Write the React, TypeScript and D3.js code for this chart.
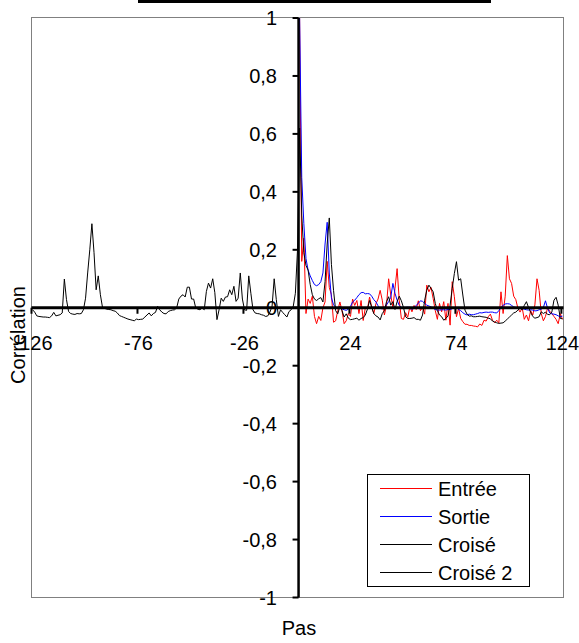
import React from "react";
import * as d3 from "d3";

// Lags (categories)
const lagMin = -126;
const lagMax = 124;
const lags: number[] = d3.range(lagMin, lagMax + 1);
const posLags: number[] = d3.range(0, lagMax + 1);
const negLags: number[] = d3.range(lagMin, 1);

const xTickLabels: number[] = [-126, -76, -26, 24, 74, 124];
const yTickValues: number[] = [1, 0.8, 0.6, 0.4, 0.2, 0, -0.2, -0.4, -0.6, -0.8, -1];

// Entrée (autocorrelation of input), lags 0..124
const entree: number[] = [
  1.0, 0.16, 0.24, -0.02, 0.03, 0.015, 0.04, -0.03, -0.055, -0.03,
  -0.044, 0.0, 0.02, 0.16, 0.07, 0.045, -0.05, -0.045, -0.01, 0.02,
  -0.01, -0.055, -0.045, -0.02, -0.03, 0.03, 0.008, 0.025, -0.02, 0.025,
  -0.044, 0.0, -0.004, 0.037, 0.003, -0.02, 0.014, 0.03, 0.06, 0.026,
  -0.025, 0.009, 0.1, 0.044, 0.001, 0.067, 0.135, 0.026, -0.037, -0.04,
  -0.017, -0.033, 0.003, -0.014, 0.008, -0.006, 0.024, -0.01, 0.001, -0.022,
  0.078, 0.055, 0.07, 0.032, -0.01, -0.04, 0.015, -0.014, 0.021, -0.043,
  0.015, -0.06, 0.09, 0.038, -0.031, -0.002, -0.037, -0.048, -0.057, -0.057,
  -0.061, -0.061, -0.063, -0.064, -0.066, -0.056, -0.061, -0.043, -0.046, -0.031,
  -0.022, -0.043, -0.052, -0.043, -0.052, 0.055, -0.02, 0.04, 0.18, 0.1,
  0.084, 0.04, 0.028, -0.002, -0.015, 0.0, -0.04, -0.025, -0.045, -0.01,
  -0.025, 0.01, 0.1, 0.06, -0.02, -0.045, -0.03, 0.0, -0.012, -0.02,
  -0.03, -0.04, -0.055, -0.02, -0.04,
];

// Sortie (autocorrelation of output), lags 0..124
const sortie: number[] = [
  1.0, 0.45, 0.29, 0.17, 0.13, 0.11, 0.094, 0.08, 0.076, 0.08,
  0.09, 0.12, 0.22, 0.295, 0.12, 0.035, 0.01, 0.002, 0.0, -0.002,
  -0.004, -0.007, -0.009, -0.005, 0.005, 0.02, 0.026, 0.035, 0.045, 0.052,
  0.053, 0.048, 0.049, 0.048, 0.04, 0.028, 0.02, 0.007, -0.002, -0.004,
  0.0, 0.01, 0.021, 0.036, 0.084, 0.05, 0.026, 0.008, 0.001, 0.001,
  0.001, 0.002, 0.001, -0.006, 0.001, 0.008, 0.015, 0.024, 0.022, 0.015,
  0.009, 0.006, 0.003, -0.002, -0.006, -0.008, -0.008, -0.007, -0.007, -0.008,
  -0.006, -0.006, -0.003, -0.001, 0.001, -0.006, -0.01, -0.017, -0.022, -0.025,
  -0.022, -0.024, -0.024, -0.022, -0.02, -0.017, -0.018, -0.016, -0.015, -0.016,
  -0.015, -0.015, -0.017, -0.018, -0.01, 0.001, 0.008, 0.013, 0.014, 0.013,
  0.008, 0.003, 0.0, -0.002, -0.002, -0.003, -0.005, -0.007, -0.008, -0.007,
  -0.008, -0.011, -0.01, -0.007, -0.005, 0.001, 0.024, -0.002, -0.018, -0.021,
  -0.022, -0.024, -0.028, -0.031, -0.029,
];

// Croisé (cross-correlation), lags 0..124
const croise: number[] = [
  0.62, 0.32, 0.19, 0.146, 0.13, 0.08, 0.045, 0.03, 0.025, 0.031,
  0.035, 0.02, 0.09, 0.22, 0.31, 0.15, 0.06, -0.01, -0.021, 0.005,
  -0.01, -0.032, -0.021, -0.036, -0.041, -0.04, -0.038, -0.036, -0.043, -0.037,
  -0.034, -0.025, -0.005, 0.025, 0.002, -0.02, -0.028, -0.032, -0.042, -0.02,
  -0.01, 0.021, 0.038, 0.009, 0.021, -0.006, 0.021, 0.04, 0.024, 0.001,
  -0.031, -0.037, -0.037, -0.036, -0.034, -0.04, -0.04, -0.043, -0.025, 0.026,
  0.061, 0.078, 0.067, 0.055, 0.015, -0.01, -0.025, -0.031, -0.043, -0.037,
  -0.028, 0.009, 0.067, 0.118, 0.159, 0.095, 0.1, 0.044, -0.008, -0.022,
  -0.029, -0.028, -0.031, -0.031, -0.03, -0.029, -0.031, -0.032, -0.033, -0.036,
  -0.038, -0.046, -0.049, -0.052, -0.054, -0.053, -0.052, -0.046, -0.039, -0.032,
  -0.025, -0.018, -0.015, -0.008, -0.002, -0.007, 0.008, 0.021, 0.001, -0.016,
  -0.03, -0.036, -0.034, -0.031, -0.014, -0.02, -0.015, -0.023, -0.024, -0.015,
  0.026, 0.036, 0.009, -0.037, -0.038,
];

// Croisé 2 (cross-correlation, negative lags), lags -126..0
const croise2: number[] = [
  -0.007, -0.015, -0.028, -0.03, -0.031, -0.032, -0.032, -0.033, -0.034, -0.028,
  -0.016, -0.028, -0.026, -0.024, -0.018, 0.099, 0.028, -0.013, -0.02, -0.022,
  -0.023, -0.02, -0.021, -0.02, -0.007, 0.033, 0.12, 0.2, 0.29, 0.19,
  0.062, 0.11, 0.045, 0.001, -0.002, -0.005, -0.006, -0.007, -0.01, -0.012,
  -0.018, -0.027, -0.03, -0.033, -0.036, -0.039, -0.041, -0.043, -0.045, -0.039,
  -0.041, -0.04, -0.039, -0.032, -0.025, -0.018, -0.028, -0.02, -0.016, 0.005,
  -0.007, -0.015, -0.02, -0.021, -0.013, -0.01, -0.008, -0.007, 0.0, 0.03,
  0.04, 0.045, 0.037, 0.071, 0.071, 0.03, 0.03, -0.001, -0.005, -0.007,
  0.0, -0.007, 0.056, 0.085, 0.068, 0.1, 0.052, -0.041, -0.007, 0.033,
  0.022, 0.037, 0.038, 0.062, 0.045, 0.074, 0.022, 0.033, 0.12, 0.03,
  -0.007, -0.009, 0.11, 0.05, -0.007, -0.018, -0.02, -0.021, -0.024, -0.026,
  -0.03, -0.028, -0.015, 0.005, 0.1, 0.028, -0.03, -0.007, -0.016, -0.024,
  -0.032, -0.013, -0.007, 0.005, 0.05, 0.2, 0.62,
];

const seriesNames: string[] = ["Entrée", "Sortie", "Croisé", "Croisé 2"];
const seriesColors: string[] = ["#ff0000", "#0000ff", "#000000", "#000000"];

const FONT = "'Liberation Sans', Arial, Helvetica, sans-serif";

export default function App() {
  const W = 579;
  const H = 643;
  const plotL = 31.5;
  const plotR = 563.5;
  const plotT = 18;
  const plotB = 597.5;

  const x = d3.scalePoint<number>().domain(lags).range([plotL, plotR]).padding(0.5);
  const step = x.step();
  const y = d3.scaleLinear().domain([-1, 1]).range([plotB, plotT]);

  const yAxisX = (x(0) as number) - step / 2;
  const y0 = y(0);

  const mk = (ls: number[], vals: number[]) =>
    d3
      .line<number>()
      .x((_, i) => x(ls[i]) as number)
      .y((v) => y(v))(vals) || "";

  const series = [
    { lags: posLags, vals: entree },
    { lags: posLags, vals: sortie },
    { lags: posLags, vals: croise },
    { lags: negLags, vals: croise2 },
  ];

  const fmt = (v: number) => {
    const s = d3.format(".1f")(v).replace("\u2212", "-");
    const t = s.replace(/\.0$/, "").replace(".", ",");
    return t === "-0" ? "0" : t;
  };

  const legX = 367.5;
  const legY = 474.5;
  const legW = 162;
  const legH = 112;
  const rowH = 28;

  return (
    <svg width={W} height={H} style={{ display: "block", position: "absolute", left: 0, top: 0 }} fontFamily={FONT}>
      <rect x={0} y={0} width={W} height={H} fill="#ffffff" />
      {/* title box bottom edge */}
      <line x1={138} x2={491} y1={1.5} y2={1.5} stroke="#000" strokeWidth={3} />
      {/* plot frame */}
      <rect x={plotL} y={plotT - 0.5} width={plotR - plotL} height={plotB - plotT + 0.5} fill="none" stroke="#808080" strokeWidth={1} />

      {/* series */}
      {series.map((s, i) => (
        <path key={i} d={mk(s.lags, s.vals)} fill="none" stroke={seriesColors[i]} strokeWidth={1} strokeLinejoin="round" />
      ))}

      {/* x axis */}
      <line x1={plotL} x2={plotR} y1={y0} y2={y0} stroke="#000" strokeWidth={3} />
      {xTickLabels.map((t) => (
        <line key={"xt" + t} x1={(x(t) as number) - step / 2} x2={(x(t) as number) - step / 2} y1={y0} y2={y0 + 6} stroke="#000" strokeWidth={2} />
      ))}
      {/* y axis */}
      <line x1={yAxisX} x2={yAxisX} y1={plotT} y2={plotB} stroke="#000" strokeWidth={2.5} />
      {yTickValues.map((t) => (
        <line key={"yt" + t} x1={yAxisX - 6} x2={yAxisX} y1={y(t)} y2={y(t)} stroke="#000" strokeWidth={2} />
      ))}
      {yTickValues.map((t) => (
        <text key={"yl" + t} x={277} y={y(t)} dy="0.36em" textAnchor="end" fontSize={20} fill="#000">
          {fmt(t)}
        </text>
      ))}
      {xTickLabels.map((t) => (
        <text key={"xl" + t} x={x(t) as number} y={350} textAnchor="middle" fontSize={20} fill="#000">
          {String(t)}
        </text>
      ))}

      {/* axis titles */}
      <text transform="translate(25,335) rotate(-90)" textAnchor="middle" fontSize={20} fill="#000">
        Corrélation
      </text>
      <text x={299} y={635} textAnchor="middle" fontSize={20} fill="#000">
        Pas
      </text>

      {/* legend */}
      <rect x={legX} y={legY} width={legW} height={legH} fill="#fff" stroke="#000" strokeWidth={1} />
      {seriesNames.map((n, i) => {
        const ry = legY + 14 + i * rowH;
        return (
          <g key={n}>
            <line x1={380} x2={432} y1={ry} y2={ry} stroke={seriesColors[i]} strokeWidth={1} />
            <text x={438} y={ry} dy="0.36em" fontSize={20} fill="#000">
              {n}
            </text>
          </g>
        );
      })}
    </svg>
  );
}
